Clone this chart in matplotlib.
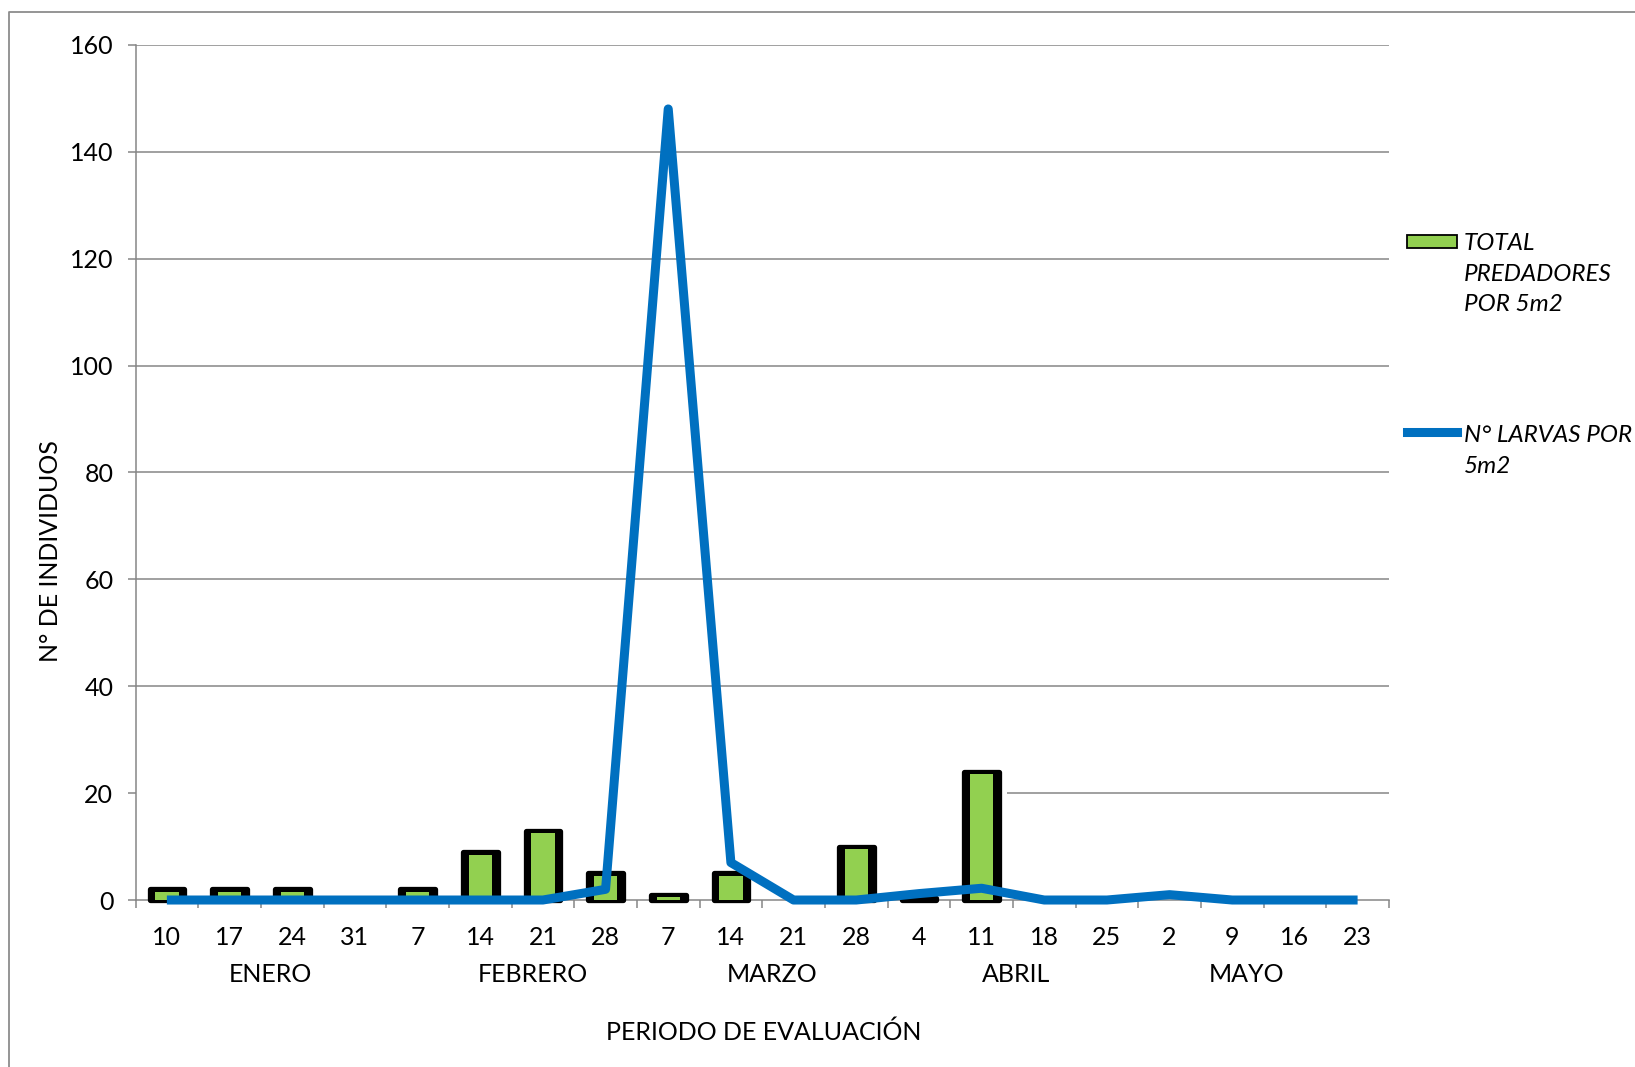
import numpy as np
import matplotlib
matplotlib.use("Agg")
import matplotlib.pyplot as plt
from matplotlib.lines import Line2D
from matplotlib.patches import Rectangle

# fechas de evaluacion (dia de cada semana)
dias = ['10', '17', '24', '31', '7', '14', '21', '28', '7', '14',
        '21', '28', '4', '11', '18', '25', '2', '9', '16', '23']
meses = ['ENERO', 'FEBRERO', 'MARZO', 'ABRIL', 'MAYO']
# centro aproximado de cada etiqueta de mes (indice de categoria)
meses_pos = [1.65, 5.84, 9.65, 13.55, 17.23]

predadores = [2, 2, 2, 0, 2, 9, 13, 5, 1, 5,
              0, 10, 0.3, 24, 0, 0, 0, 0, 0, 0]
larvas = [0, 0, 0, 0, 0, 0, 0, 2, 148, 7,
          0, 0, 1.2, 2.2, 0, 0, 1, 0, 0, 0]

VERDE = '#92D050'
AZUL = '#0070C0'
GRIS = '#868686'
FS = 18

plt.rcParams['font.family'] = ['Lato', 'DejaVu Sans']

fig = plt.figure(figsize=(16.35, 10.67), dpi=100)
ax = fig.add_axes([0.0829, 0.1565, 0.7666, 0.8015])

x = np.arange(len(dias))
alto = np.array(predadores, dtype=float)
vis = alto > 0

# borde negro grueso a los lados y mas fino arriba (estilo Excel)
px_por_unidad = 0.8015 * 1067 / 160
borde_sup = 2.65 / px_por_unidad
negras = ax.bar(x[vis], alto[vis], width=0.554, color='black',
                edgecolor='black', linewidth=3.8, zorder=3, clip_on=False)
for b in negras:
    b.set_joinstyle('round')
ax.bar(x[vis], np.clip(alto[vis] - borde_sup, 0, None), width=0.372,
       color=VERDE, linewidth=0, zorder=3.5)

ax.plot(x, larvas, color=AZUL, linewidth=6.5, zorder=4, clip_on=False,
        solid_joinstyle='round', solid_capstyle='butt')

ax.set_xlim(-0.5, len(dias) - 0.5)
ax.set_ylim(0, 160)
ax.set_yticks(np.arange(0, 161, 20))

# lineas de division (la de 20 queda oculta a la izquierda, como en el original)
for v in range(40, 161, 20):
    ax.axhline(v, color=GRIS, linewidth=1.1, zorder=1)
ax.hlines(20, 13.4, len(dias) - 0.5, color=GRIS, linewidth=1.1, zorder=1)

for s in ['top', 'right']:
    ax.spines[s].set_visible(False)
for s in ['left', 'bottom']:
    ax.spines[s].set_color(GRIS)
    ax.spines[s].set_linewidth(1.1)

ax.set_xticks(x)
ax.set_xticklabels(dias)
ax.set_xticks(np.arange(-0.5, len(dias), 1), minor=True)
ax.tick_params(axis='x', which='major', length=0, pad=19, labelsize=FS)
ax.tick_params(axis='x', which='minor', length=6, width=1.1, color=GRIS)
ax.tick_params(axis='y', length=6, width=1.1, color=GRIS, pad=10,
               labelsize=FS)

tr = ax.get_xaxis_transform()
for nombre, pos in zip(meses, meses_pos):
    ax.text(pos, -0.0866, nombre, transform=tr, ha='center', va='center',
            fontsize=FS)

ax.set_xlabel('PERIODO DE EVALUACIÓN', fontsize=FS)
ax.xaxis.set_label_coords(0.501, -0.155)
ax.xaxis.label.set_va('center')
ax.set_ylabel('N° DE INDIVIDUOS', fontsize=FS)
ax.yaxis.set_label_coords(-0.068, 0.408)
ax.yaxis.label.set_va('center')

# leyenda
fig.patches.append(Rectangle((0.8606, 0.7676), 0.0306, 0.0118,
                             transform=fig.transFigure, facecolor=VERDE,
                             edgecolor='black', linewidth=1.3))
fig.text(0.8954, 0.7432, 'TOTAL\nPREDADORES\nPOR 5m2', style='italic',
         fontsize=17.5, va='center', ha='left', linespacing=1.58)
fig.lines.append(Line2D([0.8606, 0.8912], [0.5951, 0.5951],
                        transform=fig.transFigure, color=AZUL, linewidth=6.5))
fig.text(0.8954, 0.5773, 'N° LARVAS POR\n5m2', style='italic',
         fontsize=17.5, va='center', ha='left', linespacing=1.58)

# marco del grafico
fig.lines.append(Line2D([0.0058, 0.0058, 1.0], [0.0, 0.989, 0.989],
                        transform=fig.transFigure, color='#8c8c8c',
                        linewidth=1.3))

fig.savefig('out.png', dpi=100)
